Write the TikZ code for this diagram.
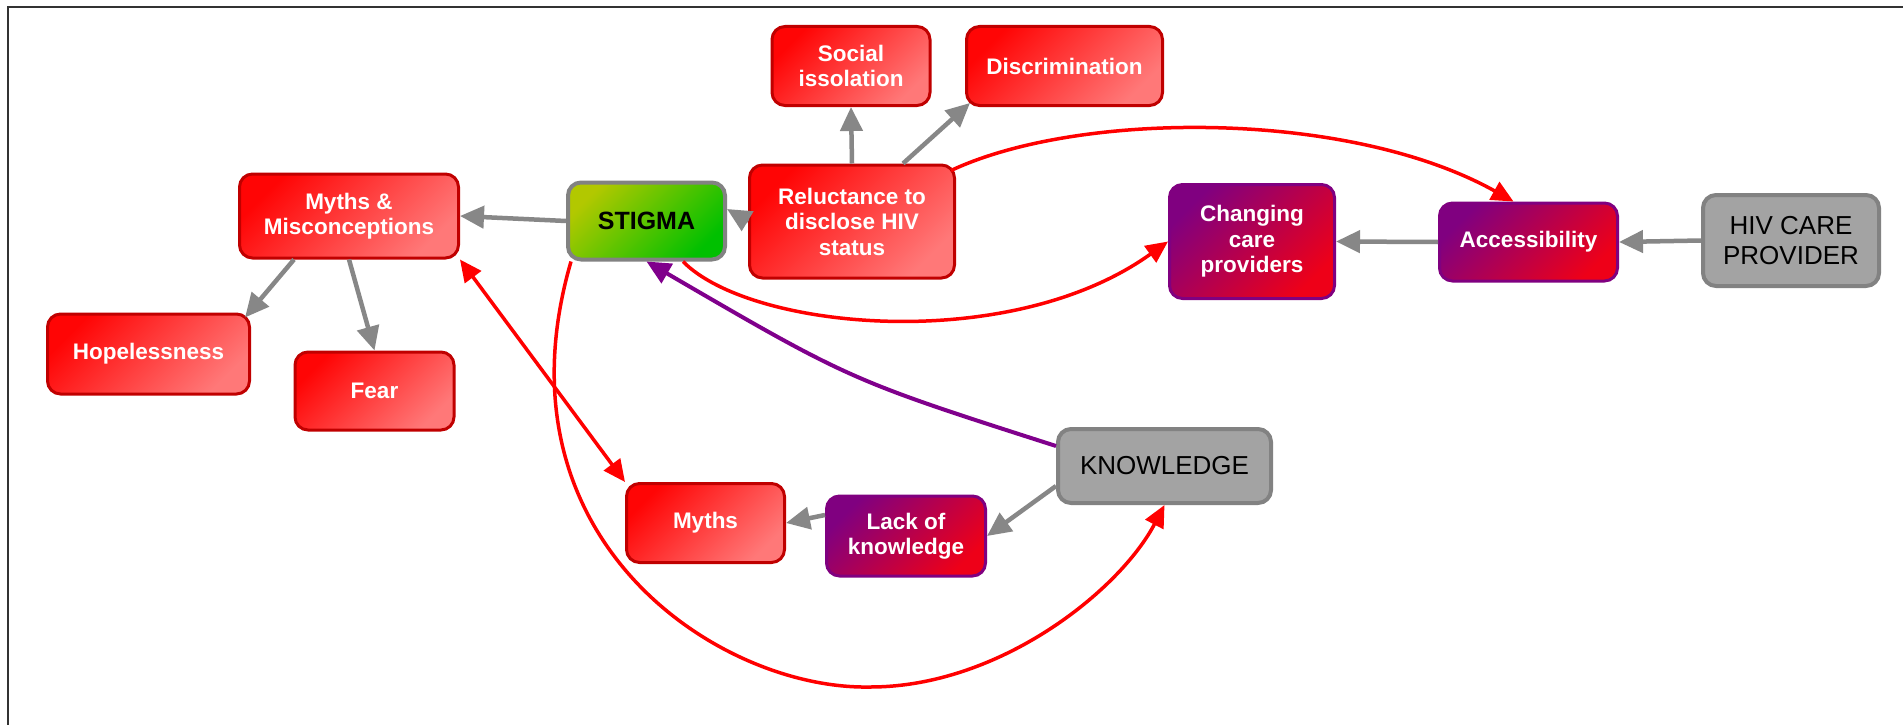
\documentclass[tikz,border=0pt]{standalone}
\usepackage{fontspec}
\setmainfont{Liberation Sans}
\usetikzlibrary{arrows.meta,calc}
\definecolor{redA}{HTML}{FF0505}
\definecolor{redB}{HTML}{FF7878}
\definecolor{redBorder}{HTML}{C00000}
\definecolor{purA}{HTML}{800080}
\definecolor{purB}{HTML}{EE0018}
\definecolor{grnA}{HTML}{B2C800}
\definecolor{grnB}{HTML}{00C000}
\definecolor{grayFill}{HTML}{A3A3A3}
\definecolor{grayLine}{HTML}{828282}
\definecolor{conGray}{HTML}{878787}
\definecolor{conRed}{HTML}{FF0000}
\definecolor{conPur}{HTML}{80008C}
\definecolor{frameCol}{HTML}{333333}
\begin{document}
\begin{tikzpicture}[x=1pt,y=-1pt,
  box/.style={rounded corners=13pt, inner sep=2pt, align=center,
    font=\fontsize{22.5}{25.5}\selectfont\bfseries, text=white},
  redbox/.style={box, draw=redBorder, line width=3pt, top color=redA, bottom color=redB, shading angle=45},
  purbox/.style={box, draw=purA, line width=3pt, top color=purA, bottom color=purB, shading angle=45},
  graybox/.style={box, draw=grayLine, line width=4pt, fill=grayFill, text=black,
    font=\fontsize{26}{30}\selectfont},
  grnbox/.style={box, draw=grayLine, line width=4pt, top color=grnA, bottom color=grnB, shading angle=45,
    text=black, font=\fontsize{25}{29}\selectfont\bfseries},
  garrow/.style={draw=conGray, line width=4.5pt, -{Triangle[length=24pt,width=22pt]}},
  rarrow/.style={draw=conRed, line width=3.5pt, -{Triangle[length=22pt,width=20pt]}},
  rdarrow/.style={draw=conRed, line width=3.5pt, {Triangle[length=22pt,width=20pt]}-{Triangle[length=22pt,width=20pt]}},
  parrow/.style={draw=conPur, line width=4pt, -{Triangle[length=24pt,width=22pt]}},
  frameline/.style={draw=frameCol, line width=2pt}
]
\useasboundingbox (0,0) rectangle (1903,725);
\fill[white] (0,0) rectangle (1903,725);

% frame
\coordinate (ftl) at (8,7);
\coordinate (ftr) at (1903,7);
\coordinate (fbl) at (8,725);
\draw[frameline] (ftr) -- (ftl) -- (fbl);

% nodes
\node[redbox, minimum width=219, minimum height=84] (mm) at (349,216) {Myths \&\\Misconceptions};
\node[grnbox, minimum width=157, minimum height=77] (stigma) at (646.5,221) {STIGMA};
\node[redbox, minimum width=205, minimum height=113] (rel) at (852,221.5) {Reluctance to\\disclose HIV\\status};
\node[redbox, minimum width=158, minimum height=79] (soc) at (851,66) {Social\\issolation};
\node[redbox, minimum width=196, minimum height=79] (disc) at (1064.5,66) {Discrimination};
\node[purbox, minimum width=165, minimum height=114] (chg) at (1252,241.5) {Changing\\care\\providers};
\node[purbox, minimum width=178, minimum height=78] (acc) at (1528.5,242) {Accessibility};
\node[graybox, minimum width=176, minimum height=91] (hiv) at (1791,240.5) {HIV CARE\\PROVIDER};
\node[redbox, minimum width=202, minimum height=80] (hope) at (148.5,354) {Hopelessness};
\node[redbox, minimum width=159, minimum height=78] (fear) at (374.5,391) {Fear};
\node[graybox, minimum width=213, minimum height=74] (know) at (1164.5,466) {KNOWLEDGE};
\node[redbox, minimum width=158, minimum height=79] (myths) at (705.5,523) {Myths};
\node[purbox, minimum width=159, minimum height=80] (lack) at (906,536) {Lack of\\knowledge};

% gray connectors
\draw[garrow] (stigma.west) -- (mm.east);
\draw[garrow] ($(mm.south)+(-55,0)$) -- ($(hope.north east)+(-6,5)$);
\draw[garrow] (mm.south) -- (fear.north);
\draw[garrow] (rel.west) -- ($(stigma.east)+(0,-12)$);
\draw[garrow] (rel.north) -- (soc.south);
\draw[garrow] ($(rel.north)+(51,0)$) -- ($(disc.south west)+(5,-4)$);
\draw[garrow] (hiv.west) -- (acc.east);
\draw[garrow] (acc.west) -- (chg.east);
\draw[garrow] ($(know.south west)+(0,-19)$) -- (lack.east);
\draw[garrow] ($(lack.west)+(0,-21)$) -- (myths.east);

% purple connector
\draw[parrow] ($(know.north west)+(0,19)$) .. controls (850,380) .. (stigma.south);

% red connectors
\draw[rdarrow] (mm.south east) -- (myths.north west);
\coordinate (bot) at (870,687);
\draw[rarrow] ($(stigma.south west)+(5,0)$) .. controls (490,540) and (720,690) .. (bot)
  .. controls (1000,687) and (1120,590) .. (know.south);
\draw[rarrow] ($(stigma.south east)+(-44,0)$) .. controls (750,330) and (1010,355) .. (chg.west);
\draw[rarrow] ($(rel.north east)+(-5,7)$) .. controls (1080,110) and (1350,110) .. ($(acc.north)+(-15,0)$);
\end{tikzpicture}
\end{document}
